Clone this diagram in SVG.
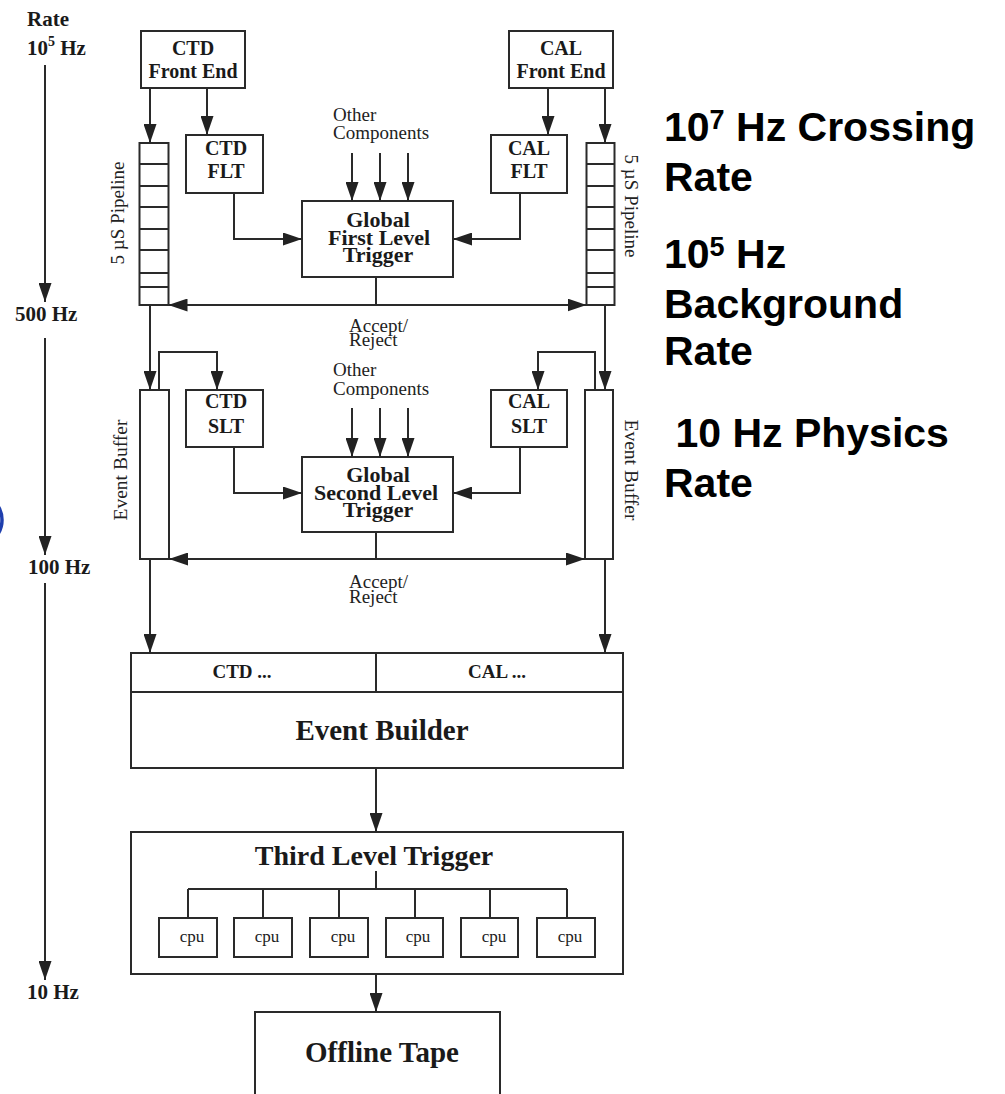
<svg xmlns="http://www.w3.org/2000/svg" width="1005" height="1094" viewBox="0 0 1005 1094">
<defs>
<marker id="ah" markerUnits="userSpaceOnUse" markerWidth="19" markerHeight="13" refX="19" refY="6.5" orient="auto">
<path d="M0,0 L19,6.5 L0,13 z" fill="#222"/>
</marker>
<style>
.bx{fill:#fff;stroke:#2a2a2a;stroke-width:2}
.ln{fill:none;stroke:#2a2a2a;stroke-width:2}
.ar{fill:none;stroke:#2a2a2a;stroke-width:2;marker-end:url(#ah)}
.tb{font-family:"Liberation Serif","Times New Roman",serif;font-weight:bold;fill:#1a1a1a}
.tr{font-family:"Liberation Serif","Times New Roman",serif;fill:#222}
.rt{font-family:"Liberation Sans",Arial,sans-serif;font-weight:bold;font-size:41px;fill:#000}
.m{text-anchor:middle}
</style>
</defs>
<rect width="1005" height="1094" fill="#fff"/>

<!-- rate axis -->
<g id="rate-axis">
<text class="tb" x="27" y="26" font-size="21">Rate</text>
<text class="tb" x="27" y="55" font-size="21">10<tspan font-size="14" dy="-9">5</tspan><tspan dy="9"> Hz</tspan></text>
<text class="tb" x="15" y="321" font-size="21">500 Hz</text>
<text class="tb" x="28" y="574" font-size="21">100 Hz</text>
<text class="tb" x="27" y="999" font-size="21">10 Hz</text>
<path class="ar" d="M45,65 V302"/>
<path class="ar" d="M45,338 V555"/>
<path class="ar" d="M45,583 V980"/>
</g>

<circle cx="-24" cy="520" r="26" fill="none" stroke="#1f3fae" stroke-width="3.5"/>

<g id="ctd-front-end">
<rect class="bx" x="141" y="31" width="104" height="57"/>
<text class="tb m" x="193" y="55" font-size="20">CTD</text>
<text class="tb m" x="193" y="78" font-size="20">Front End</text>
</g>
<g id="cal-front-end">
<rect class="bx" x="509" y="31" width="104" height="57"/>
<text class="tb m" x="561" y="55" font-size="20">CAL</text>
<text class="tb m" x="561" y="78" font-size="20">Front End</text>
</g>

<g id="pipeline-left">
<rect class="bx" x="139.5" y="143" width="29" height="162"/>
<path class="ln" d="M139.5,164 h29 M139.5,186 h29 M139.5,207 h29 M139.5,229 h29 M139.5,250 h29 M139.5,273 h29 M139.5,287 h29"/>
<text class="tr m" transform="translate(124,213) rotate(-90)" font-size="19">5 µS Pipeline</text>
</g>
<g id="pipeline-right">
<rect class="bx" x="586.5" y="143" width="28" height="162"/>
<path class="ln" d="M586.5,164 h28 M586.5,186 h28 M586.5,207 h28 M586.5,229 h28 M586.5,250 h28 M586.5,273 h28 M586.5,287 h28"/>
<text class="tr m" transform="translate(625,206) rotate(90)" font-size="19">5 µS Pipeline</text>
</g>

<g id="ctd-flt">
<rect class="bx" x="186" y="135" width="77" height="58"/>
<text class="tb m" x="226" y="155" font-size="20">CTD</text>
<text class="tb m" x="226" y="178" font-size="20">FLT</text>
</g>
<g id="cal-flt">
<rect class="bx" x="491" y="135" width="76" height="58"/>
<text class="tb m" x="529" y="155" font-size="20">CAL</text>
<text class="tb m" x="529" y="178" font-size="20">FLT</text>
</g>

<g id="other-components-1">
<text class="tr" x="333" y="121" font-size="19">Other</text>
<text class="tr" x="333" y="139" font-size="19">Components</text>
</g>

<g id="global-flt">
<rect class="bx" x="302" y="201" width="151" height="76"/>
<text class="tb m" x="378" y="227" font-size="22">Global</text>
<text class="tb m" x="379" y="245" font-size="22">First Level</text>
<text class="tb m" x="378" y="262" font-size="22">Trigger</text>
</g>

<g id="accept-reject-1">
<text class="tr" x="349" y="332" font-size="19">Accept/</text>
<text class="tr" x="349" y="346" font-size="19">Reject</text>
</g>

<g id="event-buffer-left">
<rect class="bx" x="140" y="390" width="29" height="169"/>
<text class="tr m" transform="translate(127,470) rotate(-90)" font-size="19.5">Event Buffer</text>
</g>
<g id="event-buffer-right">
<rect class="bx" x="585" y="390" width="28" height="169"/>
<text class="tr m" transform="translate(625,470) rotate(90)" font-size="19.5">Event Buffer</text>
</g>

<g id="ctd-slt">
<rect class="bx" x="186" y="390" width="77" height="57"/>
<text class="tb m" x="226" y="408" font-size="20">CTD</text>
<text class="tb m" x="226" y="433" font-size="20">SLT</text>
</g>
<g id="cal-slt">
<rect class="bx" x="491" y="390" width="76" height="57"/>
<text class="tb m" x="529" y="408" font-size="20">CAL</text>
<text class="tb m" x="529" y="433" font-size="20">SLT</text>
</g>

<g id="other-components-2">
<text class="tr" x="333" y="376" font-size="19">Other</text>
<text class="tr" x="333" y="395" font-size="19">Components</text>
</g>

<g id="global-slt">
<rect class="bx" x="302" y="457" width="151" height="75"/>
<text class="tb m" x="378" y="482" font-size="22">Global</text>
<text class="tb m" x="376" y="500" font-size="22">Second Level</text>
<text class="tb m" x="378" y="517" font-size="22">Trigger</text>
</g>

<g id="accept-reject-2">
<text class="tr" x="349" y="588" font-size="19">Accept/</text>
<text class="tr" x="349" y="603" font-size="19">Reject</text>
</g>

<g id="event-builder">
<rect class="bx" x="131" y="653" width="492" height="115"/>
<path class="ln" d="M131,692 H623 M376,653 V692"/>
<text class="tb m" x="242" y="678" font-size="19">CTD ...</text>
<text class="tb m" x="497" y="678" font-size="19">CAL ...</text>
<text class="tb m" x="382" y="740" font-size="29">Event Builder</text>
</g>

<g id="third-level-trigger">
<rect class="bx" x="131" y="832" width="492" height="142"/>
<text class="tb m" x="374" y="865" font-size="28">Third Level Trigger</text>
</g>
<g id="cpu1"><rect class="bx" x="159" y="918" width="58" height="39"/><text class="tr m" x="192" y="942" font-size="17">cpu</text></g>
<g id="cpu2"><rect class="bx" x="234" y="918" width="58" height="39"/><text class="tr m" x="267" y="942" font-size="17">cpu</text></g>
<g id="cpu3"><rect class="bx" x="310" y="918" width="58" height="39"/><text class="tr m" x="343" y="942" font-size="17">cpu</text></g>
<g id="cpu4"><rect class="bx" x="386" y="918" width="57" height="39"/><text class="tr m" x="418" y="942" font-size="17">cpu</text></g>
<g id="cpu5"><rect class="bx" x="461" y="918" width="57" height="39"/><text class="tr m" x="494" y="942" font-size="17">cpu</text></g>
<g id="cpu6"><rect class="bx" x="537" y="918" width="58" height="39"/><text class="tr m" x="570" y="942" font-size="17">cpu</text></g>

<g id="offline-tape">
<rect class="bx" x="255" y="1012" width="245" height="100"/>
<text class="tb m" x="382" y="1062" font-size="29">Offline Tape</text>
</g>

<!-- connectors -->
<g id="connectors">
<path class="ar" d="M150,88 V143"/>
<path class="ar" d="M207,88 V135"/>
<path class="ar" d="M548,88 V135"/>
<path class="ar" d="M605,88 V143"/>
<path class="ar" d="M234,193 V239 H302"/>
<path class="ar" d="M520,193 V239 H453"/>
<path class="ar" d="M352,153 V201"/>
<path class="ar" d="M380,153 V201"/>
<path class="ar" d="M408,153 V201"/>
<path class="ln" d="M376,277 V305"/>
<path class="ar" d="M376,305 H168.5"/>
<path class="ar" d="M376,305 H586.5"/>
<path class="ar" d="M150,305 V390"/>
<path class="ar" d="M159,390 V352 H217 V390"/>
<path class="ar" d="M605,305 V390"/>
<path class="ar" d="M595,390 V352 H538 V390"/>
<path class="ar" d="M234,447 V493 H302"/>
<path class="ar" d="M520,447 V493 H453"/>
<path class="ar" d="M352,408 V457"/>
<path class="ar" d="M380,408 V457"/>
<path class="ar" d="M408,408 V457"/>
<path class="ln" d="M376,532 V559"/>
<path class="ar" d="M376,559 H169"/>
<path class="ar" d="M376,559 H585"/>
<path class="ar" d="M150,559 V653"/>
<path class="ar" d="M605,559 V653"/>
<path class="ar" d="M376,768 V832"/>
<path class="ar" d="M376,974 V1012"/>
<path class="ln" d="M376,871 V889 M188,889 H567 M188,889 V918 M263,889 V918 M339,889 V918 M415,889 V918 M490,889 V918 M567,889 V918"/>
</g>

<g id="rate-notes">
<text class="rt" x="664" y="141">10<tspan font-size="27" dy="-12">7</tspan><tspan dy="12"> Hz Crossing</tspan></text>
<text class="rt" x="664" y="191">Rate</text>
<text class="rt" x="664" y="268">10<tspan font-size="27" dy="-12">5</tspan><tspan dy="12"> Hz</tspan></text>
<text class="rt" x="664" y="318">Background</text>
<text class="rt" x="664" y="365">Rate</text>
<text class="rt" x="664" y="447" xml:space="preserve"> 10 Hz Physics</text>
<text class="rt" x="664" y="497">Rate</text>
</g>
</svg>
